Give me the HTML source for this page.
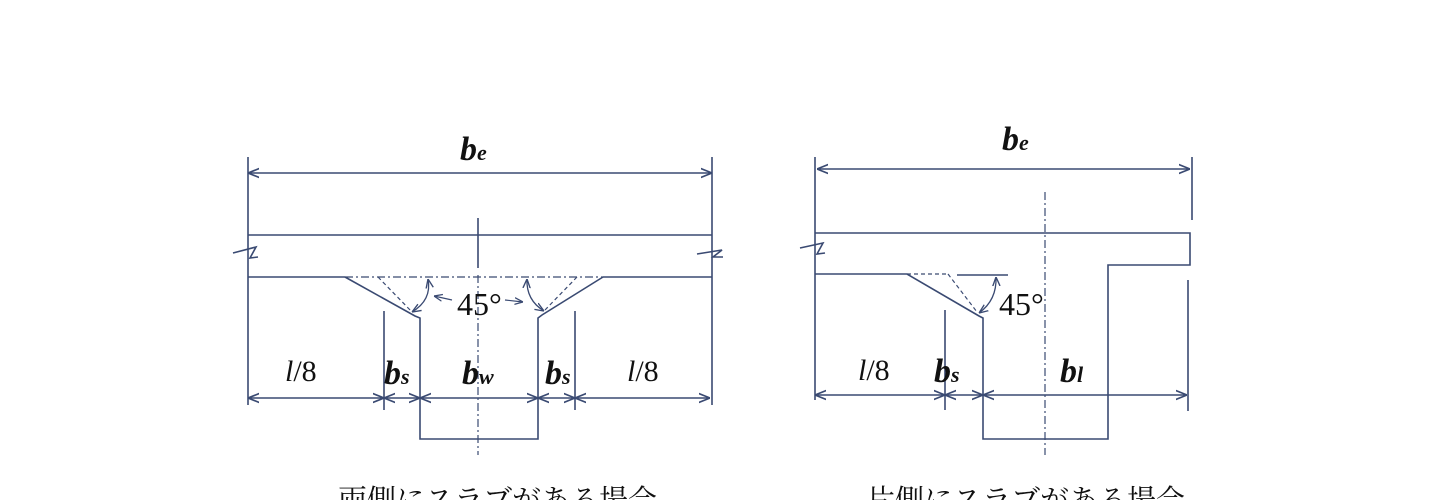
<!DOCTYPE html>
<html><head><meta charset="utf-8"><style>
html,body{margin:0;padding:0;background:#fff;width:1450px;height:500px;overflow:hidden}
svg{display:block}
.t{font-family:"Liberation Serif",serif;fill:#111}
</style></head><body>
<svg width="1450" height="500" viewBox="0 0 1450 500" xmlns="http://www.w3.org/2000/svg">
<defs>
<marker id="a" viewBox="0 0 10 10" refX="10" refY="5" markerWidth="7" markerHeight="7" orient="auto-start-reverse"><path d="M0,1 L10,5 L0,9" fill="none" stroke="#3a4a72" stroke-width="1.5"/></marker>
</defs>
<g stroke="#3a4a72" stroke-width="1.6" fill="none">
<!-- LEFT -->
<line x1="248" y1="157" x2="248" y2="405"/>
<line x1="712" y1="157" x2="712" y2="405"/>
<line x1="248" y1="173" x2="712" y2="173" marker-start="url(#a)" marker-end="url(#a)"/>
<line x1="248" y1="235" x2="712" y2="235"/>
<line x1="248" y1="277" x2="345" y2="277"/>
<line x1="603" y1="277" x2="712" y2="277"/>
<path d="M233,253 L256,247 L250,258 L258,257"/>
<path d="M697,254 L722,250 L713,257 L723,257"/>
<path d="M345,277 L415,316 L420,318 L420,439 L538,439 L538,318 L542,315 L603,277"/>
<line x1="345" y1="277" x2="603" y2="277" stroke-dasharray="8,3,2,3" stroke-width="1.2"/>
<line x1="378" y1="277" x2="412" y2="312" stroke-dasharray="4,3" stroke-width="1.2"/>
<line x1="577" y1="277" x2="545" y2="310" stroke-dasharray="4,3" stroke-width="1.2"/>
<line x1="478" y1="218" x2="478" y2="268"/>
<line x1="478" y1="275" x2="478" y2="455" stroke-dasharray="8,3,2,3" stroke-width="1.2"/>
<line x1="384" y1="311" x2="384" y2="410"/>
<line x1="575" y1="311" x2="575" y2="410"/>
<line x1="248" y1="398" x2="384" y2="398" marker-start="url(#a)" marker-end="url(#a)"/>
<line x1="384" y1="398" x2="420" y2="398" marker-start="url(#a)" marker-end="url(#a)"/>
<line x1="420" y1="398" x2="538" y2="398" marker-start="url(#a)" marker-end="url(#a)"/>
<line x1="538" y1="398" x2="575" y2="398" marker-start="url(#a)" marker-end="url(#a)"/>
<line x1="575" y1="398" x2="710" y2="398" marker-start="url(#a)" marker-end="url(#a)"/>
<path d="M412,312 Q432,300 428,279" marker-start="url(#a)" marker-end="url(#a)" stroke-width="1.3"/>
<path d="M544,311 Q526,300 527,279" marker-start="url(#a)" marker-end="url(#a)" stroke-width="1.3"/>
<line x1="452" y1="300" x2="434" y2="296" marker-end="url(#a)" stroke-width="1.2"/>
<line x1="505" y1="300" x2="523" y2="302" marker-end="url(#a)" stroke-width="1.2"/>
<!-- RIGHT -->
<line x1="815" y1="157" x2="815" y2="400"/>
<line x1="1192" y1="157" x2="1192" y2="220"/>
<line x1="817" y1="169" x2="1190" y2="169" marker-start="url(#a)" marker-end="url(#a)"/>
<path d="M815,233 L1190,233 L1190,265 L1108,265 L1108,439 L983,439 L983,318 L979,316 L907,274 L815,274"/>
<path d="M800,248 L823,243 L817,254 L825,253"/>
<line x1="907" y1="274" x2="948" y2="274" stroke-dasharray="4,3" stroke-width="1.2"/>
<line x1="948" y1="274" x2="977" y2="312" stroke-dasharray="4,3" stroke-width="1.2"/>
<line x1="957" y1="275" x2="1008" y2="275"/>
<path d="M979,313 Q997,300 996,277" marker-start="url(#a)" marker-end="url(#a)" stroke-width="1.3"/>
<line x1="1188" y1="280" x2="1188" y2="411"/>
<line x1="1045" y1="192" x2="1045" y2="455" stroke-dasharray="8,3,2,3" stroke-width="1.2"/>
<line x1="945" y1="310" x2="945" y2="410"/>
<line x1="815" y1="395" x2="945" y2="395" marker-start="url(#a)" marker-end="url(#a)"/>
<line x1="945" y1="395" x2="983" y2="395" marker-start="url(#a)" marker-end="url(#a)"/>
<line x1="983" y1="395" x2="1187" y2="395" marker-start="url(#a)" marker-end="url(#a)"/>
</g>
<g class="t">
<text x="460" y="160" font-size="34" font-style="italic" font-weight="bold">b<tspan font-size="22">e</tspan></text>
<text x="1002" y="150" font-size="34" font-style="italic" font-weight="bold">b<tspan font-size="22">e</tspan></text>
<text x="285" y="381" font-size="30"><tspan font-style="italic">l</tspan>/8</text>
<text x="627" y="381" font-size="30"><tspan font-style="italic">l</tspan>/8</text>
<text x="858" y="380" font-size="30"><tspan font-style="italic">l</tspan>/8</text>
<text x="384" y="384" font-size="34" font-style="italic" font-weight="bold">b<tspan font-size="22">s</tspan></text>
<text x="462" y="384" font-size="34" font-style="italic" font-weight="bold">b<tspan font-size="22">w</tspan></text>
<text x="545" y="384" font-size="34" font-style="italic" font-weight="bold">b<tspan font-size="22">s</tspan></text>
<text x="934" y="382" font-size="34" font-style="italic" font-weight="bold">b<tspan font-size="22">s</tspan></text>
<text x="1060" y="382" font-size="34" font-style="italic" font-weight="bold">b<tspan font-size="22">l</tspan></text>
<text x="457" y="315" font-size="32">45°</text>
<text x="999" y="315" font-size="32">45°</text>
<text x="338" y="510" font-size="29" font-family="'Liberation Serif','Noto Serif CJK SC',serif">両側にスラブがある場合</text>
<text x="866" y="510" font-size="29" font-family="'Liberation Serif','Noto Serif CJK SC',serif">片側にスラブがある場合</text>
</g>
</svg>
</body></html>
